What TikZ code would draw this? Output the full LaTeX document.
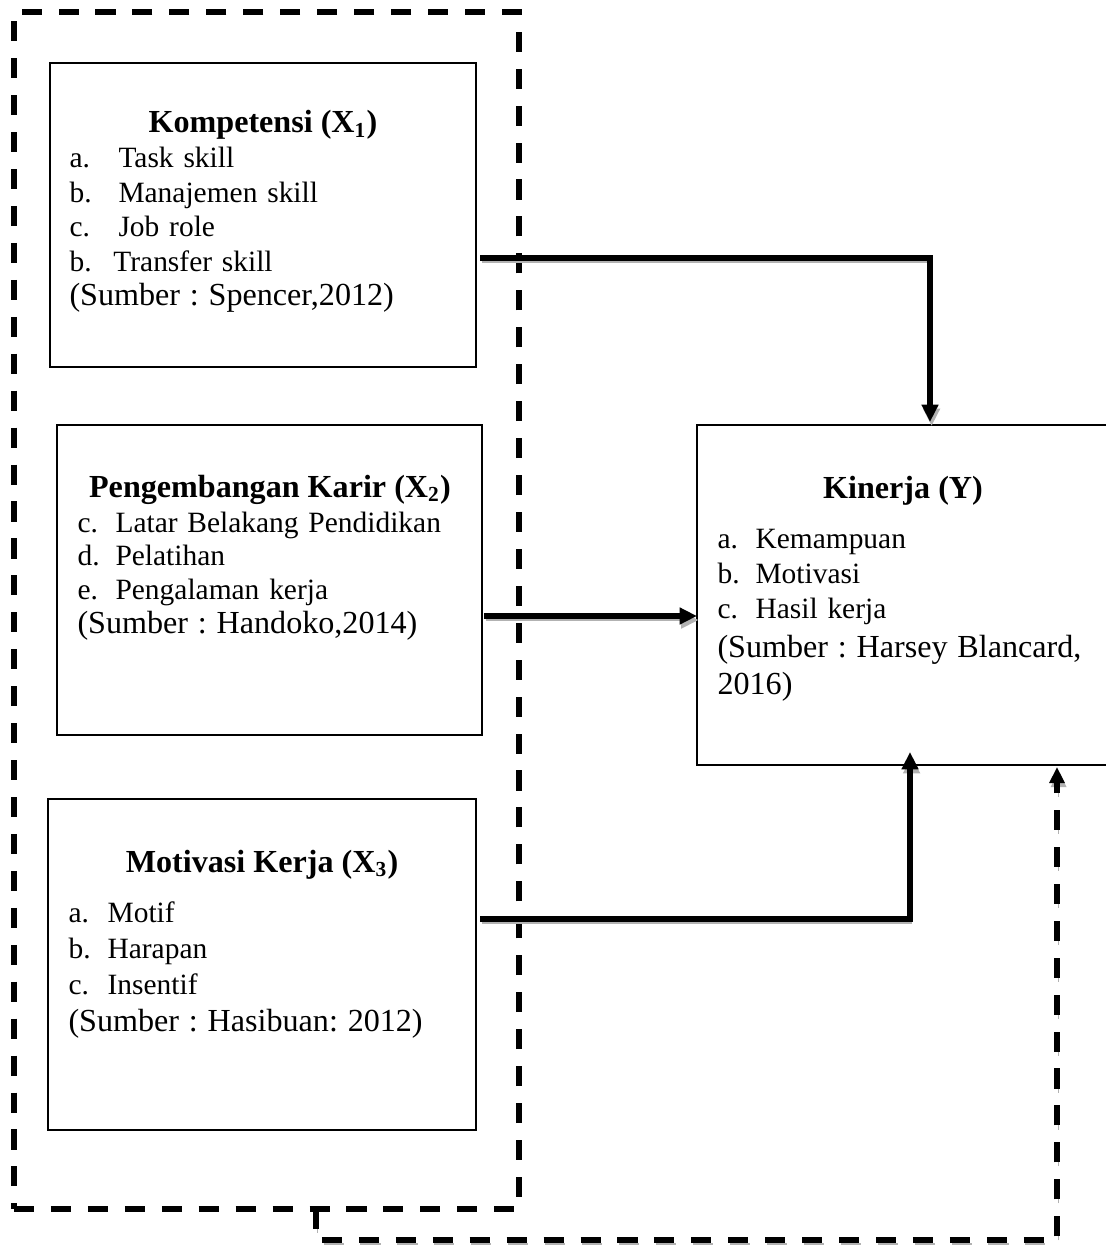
\documentclass[tikz,border=0pt]{standalone}
\usepackage{fontspec}
\setmainfont{Liberation Serif}
\usetikzlibrary{arrows.meta,calc}

\newcommand{\lbl}[2]{\makebox[#1][l]{#2}}
\newcommand{\src}[1]{{\fontsize{12}{14}\selectfont #1}}

\tikzset{
  box/.style 2 args={draw, line width=0.5pt, rectangle, inner sep=0pt, outer sep=0pt, anchor=north west,
    minimum width=#1*0.3736pt, minimum height=#2*0.3736pt},
  grpbox/.style 2 args={box={#1}{#2}, line width=1.9pt, dash pattern=on 7.5pt off 6.3pt},
  ttl/.style={anchor=base, inner sep=0pt, font=\fontsize{12}{14}\selectfont\bfseries},
  body/.style={anchor=base west, inner sep=0pt, text width=170pt, align=left,
    font=\fontsize{11}{#1}\selectfont\frenchspacing},
  link/.style={draw, line width=1.9pt, -{Triangle[length=6.5pt,width=6pt]},
    preaction={draw=gray!60, transform canvas={xshift=0.6pt, yshift=-1.5pt}}},
  dlink/.style={draw, line width=1.9pt, -{Triangle[length=6pt,width=5.5pt]},
    dash pattern=on 7.5pt off 6.3pt,
    preaction={draw=gray!60, dash pattern=on 7.5pt off 6.3pt, transform canvas={xshift=0.6pt, yshift=-1.5pt}}},
}

\begin{document}
\begin{tikzpicture}[x=0.3736pt, y=-0.3736pt]
  \useasboundingbox (0,0) rectangle (1105,1246);
  % dashed group round the three X variables
  \node[grpbox={505}{1197}] (grp) at (14,12) {};

  % boxes
  \node[box={426}{304}] (k1) at (50,63) {};
  \node[box={425}{310}] (k2) at (57,425) {};
  \node[box={428}{331}] (k3) at (48,799) {};
  \node[box={420}{340}] (ky) at (697,425) {};

  % titles
  \node[ttl] (k1t) at (263,133) {Kompetensi (X\textsubscript{1})};
  \node[ttl] (k2t) at (270,497) {Pengembangan Karir (X\textsubscript{2})};
  \node[ttl] (k3t) at (262,872) {Motivasi Kerja (X\textsubscript{3})};
  \node[ttl] (kyt) at (903,498) {Kinerja (Y)};

  % indicators
  \node[body=12.85pt] (k1b) at (69,168) {\lbl{18.3pt}{a.}Task skill\\
    \lbl{18.3pt}{b.}Manajemen skill\\
    \lbl{18.3pt}{c.}Job role\\
    \lbl{16.4pt}{b.}Transfer skill\\
    \src{(Sumber : Spencer,2012)}};
  \node[body=12.7pt] (k2b) at (77,532) {\lbl{14.2pt}{c.}Latar Belakang Pendidikan\\
    \lbl{14.2pt}{d.}Pelatihan\\
    \lbl{14.2pt}{e.}Pengalaman kerja\\
    \src{(Sumber : Handoko,2014)}};
  \node[body=13.6pt] (k3b) at (68,922) {\lbl{14.6pt}{a.}Motif\\
    \lbl{14.6pt}{b.}Harapan\\
    \lbl{14.6pt}{c.}Insentif\\
    \src{(Sumber : Hasibuan: 2012)}};
  \node[body=13.1pt] (kyb) at (717,548) {\lbl{14.2pt}{a.}Kemampuan\\
    \lbl{14.2pt}{b.}Motivasi\\
    \lbl{14.2pt}{c.}Hasil kerja\\[1.5pt]
    \src{(Sumber : Harsey Blancard,}\\[1pt]
    \src{2016)}};

  % connectors
  \coordinate (a1s) at (480,258);
  \coordinate (a2s) at (484,616);
  \coordinate (a3s) at (480,919);
  \coordinate (a4s) at (316,1209);
  \coordinate (a4b) at (316,1240);
  \draw[link] (a1s) -| ($(ky.north west)+(233,-3)$);
  \draw[link] (a2s) -- (a2s -| ky.west);
  \draw[link] (a3s) -| ($(ky.south west)+(213,-13)$);
  \draw[dlink] (a4s) -- (a4b) -| ($(ky.south west)+(360,2)$);
\end{tikzpicture}
\end{document}
